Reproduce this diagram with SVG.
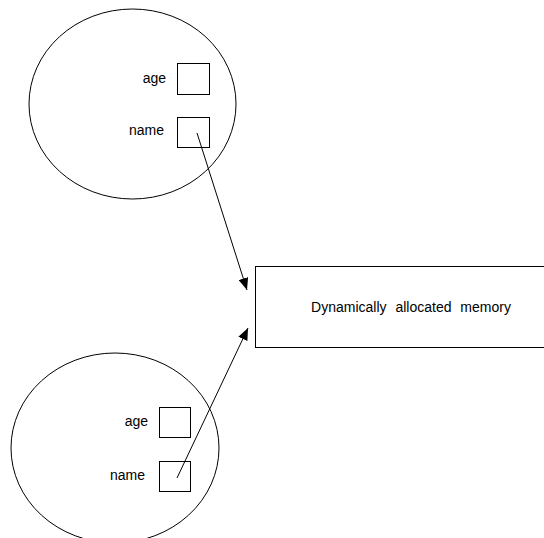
<svg xmlns="http://www.w3.org/2000/svg" width="544" height="538" viewBox="0 0 544 538">
<defs>
<marker id="ah" viewBox="0 0 12 10" refX="12" refY="5" markerWidth="12" markerHeight="10" markerUnits="userSpaceOnUse" orient="auto">
<path d="M0,0 L12,5 L0,10 Z" fill="#000"/>
</marker>
<style>
.s{fill:#fff;stroke:#000;stroke-width:1}
.t{font-family:"Liberation Sans",Arial,sans-serif;font-size:14px;fill:#000}
.c{fill:none;stroke:#000;stroke-width:1}
</style>
</defs>
<rect width="544" height="538" fill="#fff"/>
<g id="obj1">
<ellipse class="s" cx="132.5" cy="104" rx="103.5" ry="95"/>
<text class="t" x="166" y="82.5" text-anchor="end">age</text>
<rect class="s" x="177.5" y="63.5" width="32" height="31"/>
<text class="t" x="164" y="135" text-anchor="end">name</text>
<rect class="s" x="177.5" y="117.5" width="32" height="30"/>
</g>
<g id="obj2">
<ellipse class="s" cx="115" cy="448" rx="104" ry="95"/>
<text class="t" x="148" y="425.5" text-anchor="end">age</text>
<rect class="s" x="159.5" y="407.5" width="31" height="30"/>
<text class="t" x="145" y="480" text-anchor="end">name</text>
<rect class="s" x="159.5" y="461.5" width="31" height="30"/>
</g>
<g id="mem">
<rect class="s" x="255.5" y="266.5" width="300" height="81"/>
<text class="t" x="411" y="312" text-anchor="middle" word-spacing="5">Dynamically allocated memory</text>
</g>
<g id="connectors">
<line class="c" x1="197" y1="133" x2="247" y2="290" marker-end="url(#ah)"/>
<line class="c" x1="177" y1="478" x2="248" y2="328" marker-end="url(#ah)"/>
</g>
</svg>
